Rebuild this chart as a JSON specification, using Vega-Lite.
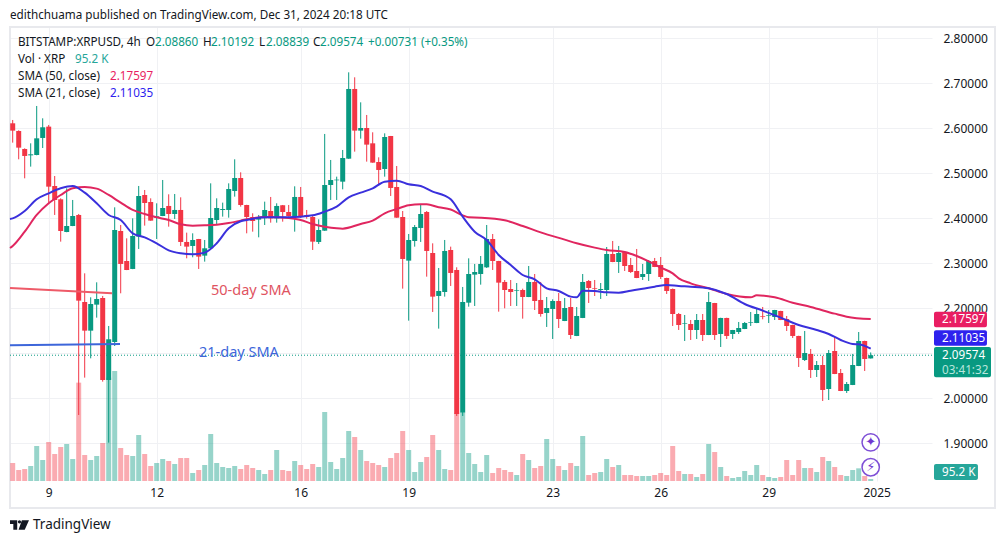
{
"$schema":"https://vega.github.io/schema/vega-lite/v6.json",
"width":922,"height":454,"autosize":"none","padding":{"left":10,"top":27,"right":73,"bottom":62},"background":"#ffffff",
"config":{"view":{"stroke":null},"font":"Noto Sans"},
"datasets":{
"candles":[
{"t":"2024-12-08T00:00Z","o":2.6111,"h":2.6185,"l":2.5681,"c":2.5948,"v":857,"d":"d"},
{"t":"2024-12-08T04:00Z","o":2.5940,"h":2.5955,"l":2.5311,"c":2.5570,"v":524,"d":"d"},
{"t":"2024-12-08T08:00Z","o":2.5540,"h":2.5555,"l":2.4888,"c":2.5385,"v":571,"d":"d"},
{"t":"2024-12-08T12:00Z","o":2.5399,"h":2.5666,"l":2.5148,"c":2.5422,"v":714,"d":"u"},
{"t":"2024-12-08T16:00Z","o":2.5407,"h":2.6496,"l":2.5400,"c":2.5777,"v":1666,"d":"u"},
{"t":"2024-12-08T20:00Z","o":2.5785,"h":2.6222,"l":2.5562,"c":2.6022,"v":1000,"d":"u"},
{"t":"2024-12-09T00:00Z","o":2.6037,"h":2.6074,"l":2.4348,"c":2.4703,"v":1857,"d":"d"},
{"t":"2024-12-09T04:00Z","o":2.4718,"h":2.4940,"l":2.4074,"c":2.4407,"v":1285,"d":"d"},
{"t":"2024-12-09T08:00Z","o":2.4422,"h":2.4444,"l":2.3481,"c":2.3718,"v":1619,"d":"d"},
{"t":"2024-12-09T12:00Z","o":2.3696,"h":2.4666,"l":2.3690,"c":2.3829,"v":1762,"d":"u"},
{"t":"2024-12-09T16:00Z","o":2.3829,"h":2.4407,"l":2.3825,"c":2.4051,"v":1047,"d":"u"},
{"t":"2024-12-09T20:00Z","o":2.4074,"h":2.4096,"l":1.9629,"c":2.2170,"v":4682,"d":"d"},
{"t":"2024-12-10T00:00Z","o":2.2140,"h":2.2777,"l":2.0459,"c":2.1503,"v":1238,"d":"d"},
{"t":"2024-12-10T04:00Z","o":2.1503,"h":2.2244,"l":2.0888,"c":2.2096,"v":1000,"d":"u"},
{"t":"2024-12-10T08:00Z","o":2.2081,"h":2.2577,"l":2.1792,"c":2.2207,"v":1190,"d":"u"},
{"t":"2024-12-10T12:00Z","o":2.2229,"h":2.2274,"l":2.0370,"c":2.0407,"v":1809,"d":"d"},
{"t":"2024-12-10T16:00Z","o":2.0407,"h":2.1607,"l":1.9014,"c":2.1311,"v":4920,"d":"u"},
{"t":"2024-12-10T20:00Z","o":2.1251,"h":2.4244,"l":2.1162,"c":2.3740,"v":5237,"d":"u"},
{"t":"2024-12-11T00:00Z","o":2.3718,"h":2.3851,"l":2.2333,"c":2.2985,"v":1571,"d":"d"},
{"t":"2024-12-11T04:00Z","o":2.3051,"h":2.3555,"l":2.2848,"c":2.2851,"v":1238,"d":"d"},
{"t":"2024-12-11T08:00Z","o":2.2874,"h":2.3999,"l":2.2870,"c":2.3607,"v":1190,"d":"u"},
{"t":"2024-12-11T12:00Z","o":2.3592,"h":2.4718,"l":2.3318,"c":2.4496,"v":2190,"d":"u"},
{"t":"2024-12-11T16:00Z","o":2.4518,"h":2.4629,"l":2.3837,"c":2.4340,"v":1285,"d":"d"},
{"t":"2024-12-11T20:00Z","o":2.4362,"h":2.4444,"l":2.3945,"c":2.3948,"v":714,"d":"d"},
{"t":"2024-12-12T00:00Z","o":2.4014,"h":2.4333,"l":2.3540,"c":2.4044,"v":857,"d":"u"},
{"t":"2024-12-12T04:00Z","o":2.4051,"h":2.4851,"l":2.4048,"c":2.4229,"v":1047,"d":"u"},
{"t":"2024-12-12T08:00Z","o":2.4274,"h":2.4533,"l":2.3814,"c":2.4096,"v":952,"d":"d"},
{"t":"2024-12-12T12:00Z","o":2.4096,"h":2.4540,"l":2.3985,"c":2.4185,"v":809,"d":"u"},
{"t":"2024-12-12T16:00Z","o":2.4185,"h":2.4466,"l":2.3385,"c":2.3474,"v":1095,"d":"d"},
{"t":"2024-12-12T20:00Z","o":2.3474,"h":2.3681,"l":2.3111,"c":2.3370,"v":1095,"d":"d"},
{"t":"2024-12-13T00:00Z","o":2.3385,"h":2.3666,"l":2.3133,"c":2.3518,"v":381,"d":"u"},
{"t":"2024-12-13T04:00Z","o":2.3540,"h":2.3542,"l":2.2874,"c":2.3148,"v":524,"d":"d"},
{"t":"2024-12-13T08:00Z","o":2.3170,"h":2.3518,"l":2.3037,"c":2.3333,"v":762,"d":"u"},
{"t":"2024-12-13T12:00Z","o":2.3333,"h":2.4777,"l":2.3330,"c":2.4007,"v":2238,"d":"u"},
{"t":"2024-12-13T16:00Z","o":2.3962,"h":2.4444,"l":2.3874,"c":2.4229,"v":857,"d":"u"},
{"t":"2024-12-13T20:00Z","o":2.4185,"h":2.4348,"l":2.4037,"c":2.4207,"v":667,"d":"u"},
{"t":"2024-12-14T00:00Z","o":2.4185,"h":2.4777,"l":2.4014,"c":2.4651,"v":619,"d":"u"},
{"t":"2024-12-14T04:00Z","o":2.4607,"h":2.5311,"l":2.4481,"c":2.4896,"v":714,"d":"u"},
{"t":"2024-12-14T08:00Z","o":2.4896,"h":2.5022,"l":2.4259,"c":2.4296,"v":571,"d":"d"},
{"t":"2024-12-14T12:00Z","o":2.4296,"h":2.4300,"l":2.3666,"c":2.4029,"v":762,"d":"d"},
{"t":"2024-12-14T16:00Z","o":2.4029,"h":2.4111,"l":2.3703,"c":2.3940,"v":619,"d":"d"},
{"t":"2024-12-14T20:00Z","o":2.3970,"h":2.4074,"l":2.3577,"c":2.4029,"v":524,"d":"u"},
{"t":"2024-12-15T00:00Z","o":2.3999,"h":2.4370,"l":2.3851,"c":2.4185,"v":333,"d":"u"},
{"t":"2024-12-15T04:00Z","o":2.4162,"h":2.4474,"l":2.3903,"c":2.3999,"v":524,"d":"d"},
{"t":"2024-12-15T08:00Z","o":2.3999,"h":2.4333,"l":2.3903,"c":2.4274,"v":1476,"d":"u"},
{"t":"2024-12-15T12:00Z","o":2.4290,"h":2.4296,"l":2.3925,"c":2.4140,"v":524,"d":"d"},
{"t":"2024-12-15T16:00Z","o":2.4140,"h":2.4296,"l":2.4037,"c":2.4051,"v":476,"d":"d"},
{"t":"2024-12-15T20:00Z","o":2.4029,"h":2.4711,"l":2.3703,"c":2.4474,"v":952,"d":"u"},
{"t":"2024-12-16T00:00Z","o":2.4474,"h":2.4696,"l":2.4007,"c":2.4029,"v":762,"d":"d"},
{"t":"2024-12-16T04:00Z","o":2.4074,"h":2.4185,"l":2.3992,"c":2.4029,"v":571,"d":"d"},
{"t":"2024-12-16T08:00Z","o":2.4029,"h":2.4074,"l":2.3296,"c":2.3481,"v":809,"d":"d"},
{"t":"2024-12-16T12:00Z","o":2.3474,"h":2.3977,"l":2.3429,"c":2.3740,"v":667,"d":"u"},
{"t":"2024-12-16T16:00Z","o":2.3725,"h":2.5874,"l":2.3720,"c":2.4740,"v":3285,"d":"u"},
{"t":"2024-12-16T20:00Z","o":2.4740,"h":2.5296,"l":2.4407,"c":2.4851,"v":905,"d":"u"},
{"t":"2024-12-17T00:00Z","o":2.4844,"h":2.4925,"l":2.4407,"c":2.4859,"v":571,"d":"u"},
{"t":"2024-12-17T04:00Z","o":2.4814,"h":2.5518,"l":2.4644,"c":2.5340,"v":1095,"d":"u"},
{"t":"2024-12-17T08:00Z","o":2.5325,"h":2.7244,"l":2.5320,"c":2.6874,"v":2380,"d":"u"},
{"t":"2024-12-17T12:00Z","o":2.6874,"h":2.7133,"l":2.5481,"c":2.5948,"v":2095,"d":"d"},
{"t":"2024-12-17T16:00Z","o":2.5948,"h":2.6577,"l":2.5770,"c":2.6007,"v":1476,"d":"u"},
{"t":"2024-12-17T20:00Z","o":2.6007,"h":2.6296,"l":2.5259,"c":2.5637,"v":952,"d":"d"},
{"t":"2024-12-18T00:00Z","o":2.5666,"h":2.5911,"l":2.5234,"c":2.5237,"v":857,"d":"d"},
{"t":"2024-12-18T04:00Z","o":2.5251,"h":2.5355,"l":2.4740,"c":2.5074,"v":762,"d":"d"},
{"t":"2024-12-18T08:00Z","o":2.5096,"h":2.5888,"l":2.4925,"c":2.5807,"v":667,"d":"u"},
{"t":"2024-12-18T12:00Z","o":2.5829,"h":2.5830,"l":2.4496,"c":2.4674,"v":1095,"d":"d"},
{"t":"2024-12-18T16:00Z","o":2.4696,"h":2.5162,"l":2.4010,"c":2.4014,"v":1333,"d":"d"},
{"t":"2024-12-18T20:00Z","o":2.4029,"h":2.4162,"l":2.2437,"c":2.3096,"v":2380,"d":"d"},
{"t":"2024-12-19T00:00Z","o":2.3059,"h":2.3651,"l":2.1725,"c":2.3518,"v":1476,"d":"u"},
{"t":"2024-12-19T04:00Z","o":2.3496,"h":2.3851,"l":2.3370,"c":2.3807,"v":428,"d":"u"},
{"t":"2024-12-19T08:00Z","o":2.3785,"h":2.4296,"l":2.3474,"c":2.4096,"v":905,"d":"u"},
{"t":"2024-12-19T12:00Z","o":2.4140,"h":2.4162,"l":2.2703,"c":2.3274,"v":1143,"d":"d"},
{"t":"2024-12-19T16:00Z","o":2.3229,"h":2.3444,"l":2.1918,"c":2.2259,"v":2190,"d":"d"},
{"t":"2024-12-19T20:00Z","o":2.2274,"h":2.2896,"l":2.1548,"c":2.2385,"v":1476,"d":"u"},
{"t":"2024-12-20T00:00Z","o":2.2362,"h":2.3518,"l":2.2259,"c":2.3274,"v":571,"d":"u"},
{"t":"2024-12-20T04:00Z","o":2.3296,"h":2.3370,"l":2.2496,"c":2.2785,"v":524,"d":"d"},
{"t":"2024-12-20T08:00Z","o":2.2851,"h":2.2911,"l":1.9607,"c":1.9651,"v":3253,"d":"d"},
{"t":"2024-12-20T12:00Z","o":1.9681,"h":2.2474,"l":1.9607,"c":2.2140,"v":3253,"d":"u"},
{"t":"2024-12-20T16:00Z","o":2.2125,"h":2.3110,"l":2.2036,"c":2.2762,"v":1333,"d":"u"},
{"t":"2024-12-20T20:00Z","o":2.2748,"h":2.2985,"l":2.2051,"c":2.2807,"v":809,"d":"u"},
{"t":"2024-12-21T00:00Z","o":2.2762,"h":2.3162,"l":2.2525,"c":2.2985,"v":428,"d":"u"},
{"t":"2024-12-21T04:00Z","o":2.2910,"h":2.3851,"l":2.2896,"c":2.3540,"v":1238,"d":"u"},
{"t":"2024-12-21T08:00Z","o":2.3540,"h":2.3651,"l":2.2851,"c":2.3051,"v":381,"d":"d"},
{"t":"2024-12-21T12:00Z","o":2.3051,"h":2.3055,"l":2.1925,"c":2.2570,"v":619,"d":"d"},
{"t":"2024-12-21T16:00Z","o":2.2585,"h":2.2629,"l":2.1999,"c":2.2407,"v":524,"d":"d"},
{"t":"2024-12-21T20:00Z","o":2.2429,"h":2.2629,"l":2.2051,"c":2.2362,"v":428,"d":"d"},
{"t":"2024-12-22T00:00Z","o":2.2392,"h":2.2562,"l":2.2051,"c":2.2407,"v":286,"d":"u"},
{"t":"2024-12-22T04:00Z","o":2.2407,"h":2.2436,"l":2.1770,"c":2.2251,"v":1285,"d":"d"},
{"t":"2024-12-22T08:00Z","o":2.2251,"h":2.2940,"l":2.2248,"c":2.2585,"v":1000,"d":"u"},
{"t":"2024-12-22T12:00Z","o":2.2585,"h":2.2762,"l":2.1962,"c":2.2162,"v":619,"d":"d"},
{"t":"2024-12-22T16:00Z","o":2.2185,"h":2.2585,"l":2.1814,"c":2.1873,"v":714,"d":"d"},
{"t":"2024-12-22T20:00Z","o":2.1896,"h":2.2251,"l":2.1585,"c":2.2007,"v":2000,"d":"u"},
{"t":"2024-12-23T00:00Z","o":2.1985,"h":2.2199,"l":2.1318,"c":2.2162,"v":1047,"d":"u"},
{"t":"2024-12-23T04:00Z","o":2.2162,"h":2.2340,"l":2.1562,"c":2.1762,"v":714,"d":"d"},
{"t":"2024-12-23T08:00Z","o":2.1718,"h":2.2229,"l":2.1715,"c":2.2007,"v":524,"d":"u"},
{"t":"2024-12-23T12:00Z","o":2.2029,"h":2.2229,"l":2.1318,"c":2.1407,"v":857,"d":"d"},
{"t":"2024-12-23T16:00Z","o":2.1385,"h":2.2029,"l":2.1382,"c":2.1829,"v":714,"d":"u"},
{"t":"2024-12-23T20:00Z","o":2.1785,"h":2.2762,"l":2.1782,"c":2.2585,"v":2142,"d":"u"},
{"t":"2024-12-24T00:00Z","o":2.2607,"h":2.2629,"l":2.2118,"c":2.2451,"v":286,"d":"d"},
{"t":"2024-12-24T04:00Z","o":2.2451,"h":2.2629,"l":2.2273,"c":2.2436,"v":381,"d":"d"},
{"t":"2024-12-24T08:00Z","o":2.2407,"h":2.2562,"l":2.2207,"c":2.2429,"v":428,"d":"u"},
{"t":"2024-12-24T12:00Z","o":2.2407,"h":2.3362,"l":2.2273,"c":2.3207,"v":1047,"d":"u"},
{"t":"2024-12-24T16:00Z","o":2.3207,"h":2.3496,"l":2.3025,"c":2.3029,"v":667,"d":"d"},
{"t":"2024-12-24T20:00Z","o":2.3029,"h":2.3385,"l":2.2785,"c":2.3229,"v":762,"d":"u"},
{"t":"2024-12-25T00:00Z","o":2.3251,"h":2.3255,"l":2.2829,"c":2.2940,"v":286,"d":"d"},
{"t":"2024-12-25T04:00Z","o":2.2962,"h":2.3118,"l":2.2785,"c":2.2807,"v":286,"d":"d"},
{"t":"2024-12-25T08:00Z","o":2.2829,"h":2.3318,"l":2.2670,"c":2.2673,"v":238,"d":"d"},
{"t":"2024-12-25T12:00Z","o":2.2696,"h":2.2985,"l":2.2629,"c":2.2762,"v":238,"d":"u"},
{"t":"2024-12-25T16:00Z","o":2.2762,"h":2.3073,"l":2.2607,"c":2.3051,"v":238,"d":"u"},
{"t":"2024-12-25T20:00Z","o":2.3051,"h":2.3118,"l":2.2915,"c":2.2918,"v":286,"d":"d"},
{"t":"2024-12-26T00:00Z","o":2.2962,"h":2.3140,"l":2.2651,"c":2.2696,"v":381,"d":"d"},
{"t":"2024-12-26T04:00Z","o":2.2673,"h":2.2680,"l":2.2318,"c":2.2385,"v":286,"d":"d"},
{"t":"2024-12-26T08:00Z","o":2.2429,"h":2.2440,"l":2.1607,"c":2.1873,"v":1666,"d":"d"},
{"t":"2024-12-26T12:00Z","o":2.1873,"h":2.1896,"l":2.1518,"c":2.1629,"v":476,"d":"d"},
{"t":"2024-12-26T16:00Z","o":2.1659,"h":2.1851,"l":2.1273,"c":2.1673,"v":333,"d":"u"},
{"t":"2024-12-26T20:00Z","o":2.1651,"h":2.1740,"l":2.1296,"c":2.1518,"v":333,"d":"d"},
{"t":"2024-12-27T00:00Z","o":2.1518,"h":2.1873,"l":2.1318,"c":2.1740,"v":190,"d":"u"},
{"t":"2024-12-27T04:00Z","o":2.1740,"h":2.1873,"l":2.1273,"c":2.1407,"v":333,"d":"d"},
{"t":"2024-12-27T08:00Z","o":2.1407,"h":2.2362,"l":2.1404,"c":2.2140,"v":1762,"d":"u"},
{"t":"2024-12-27T12:00Z","o":2.2118,"h":2.2120,"l":2.1296,"c":2.1407,"v":1381,"d":"d"},
{"t":"2024-12-27T16:00Z","o":2.1429,"h":2.1790,"l":2.1140,"c":2.1785,"v":667,"d":"u"},
{"t":"2024-12-27T20:00Z","o":2.1785,"h":2.1790,"l":2.1318,"c":2.1385,"v":238,"d":"d"},
{"t":"2024-12-28T00:00Z","o":2.1429,"h":2.1520,"l":2.1318,"c":2.1518,"v":143,"d":"u"},
{"t":"2024-12-28T04:00Z","o":2.1473,"h":2.1696,"l":2.1429,"c":2.1562,"v":190,"d":"u"},
{"t":"2024-12-28T08:00Z","o":2.1540,"h":2.1696,"l":2.1537,"c":2.1673,"v":476,"d":"u"},
{"t":"2024-12-28T12:00Z","o":2.1681,"h":2.1918,"l":2.1607,"c":2.1696,"v":286,"d":"u"},
{"t":"2024-12-28T16:00Z","o":2.1673,"h":2.1985,"l":2.1670,"c":2.1873,"v":762,"d":"u"},
{"t":"2024-12-28T20:00Z","o":2.1822,"h":2.2029,"l":2.1755,"c":2.1807,"v":286,"d":"d"},
{"t":"2024-12-29T00:00Z","o":2.1836,"h":2.1962,"l":2.1673,"c":2.1851,"v":190,"d":"u"},
{"t":"2024-12-29T04:00Z","o":2.1807,"h":2.1965,"l":2.1740,"c":2.1962,"v":143,"d":"u"},
{"t":"2024-12-29T08:00Z","o":2.1940,"h":2.1945,"l":2.1737,"c":2.1740,"v":190,"d":"d"},
{"t":"2024-12-29T12:00Z","o":2.1762,"h":2.1829,"l":2.1496,"c":2.1607,"v":1000,"d":"d"},
{"t":"2024-12-29T16:00Z","o":2.1629,"h":2.1635,"l":2.1340,"c":2.1385,"v":286,"d":"d"},
{"t":"2024-12-29T20:00Z","o":2.1385,"h":2.1390,"l":2.0696,"c":2.0896,"v":1000,"d":"d"},
{"t":"2024-12-30T00:00Z","o":2.0851,"h":2.1496,"l":2.0829,"c":2.1007,"v":619,"d":"u"},
{"t":"2024-12-30T04:00Z","o":2.0985,"h":2.1096,"l":2.0451,"c":2.0629,"v":619,"d":"d"},
{"t":"2024-12-30T08:00Z","o":2.0629,"h":2.0829,"l":2.0473,"c":2.0740,"v":428,"d":"u"},
{"t":"2024-12-30T12:00Z","o":2.0740,"h":2.0940,"l":1.9940,"c":2.0185,"v":1143,"d":"d"},
{"t":"2024-12-30T16:00Z","o":2.0207,"h":2.1073,"l":1.9962,"c":2.1007,"v":952,"d":"u"},
{"t":"2024-12-30T20:00Z","o":2.1051,"h":2.1362,"l":2.0537,"c":2.0540,"v":667,"d":"d"},
{"t":"2024-12-31T00:00Z","o":2.0562,"h":2.0651,"l":2.0160,"c":2.0162,"v":286,"d":"d"},
{"t":"2024-12-31T04:00Z","o":2.0162,"h":2.0362,"l":2.0118,"c":2.0318,"v":238,"d":"u"},
{"t":"2024-12-31T08:00Z","o":2.0296,"h":2.0985,"l":2.0293,"c":2.0740,"v":524,"d":"u"},
{"t":"2024-12-31T12:00Z","o":2.0718,"h":2.1473,"l":2.0715,"c":2.1273,"v":603,"d":"u"},
{"t":"2024-12-31T16:00Z","o":2.1273,"h":2.1280,"l":2.0607,"c":2.0873,"v":238,"d":"d"},
{"t":"2024-12-31T20:00Z","o":2.0886,"h":2.1019,"l":2.0884,"c":2.0957,"v":95.2,"d":"u"}
],
"sma21":[
{"t":"2024-12-07T22:12Z","s":2.3985},{"t":"2024-12-08T00:00Z","s":2.3999},{"t":"2024-12-08T08:00Z","s":2.4162},{"t":"2024-12-08T16:00Z","s":2.4422},{"t":"2024-12-09T00:00Z","s":2.4555},{"t":"2024-12-09T08:00Z","s":2.4666},{"t":"2024-12-09T16:00Z","s":2.4718},{"t":"2024-12-10T00:00Z","s":2.4570},{"t":"2024-12-10T08:00Z","s":2.4333},{"t":"2024-12-10T16:00Z","s":2.4074},{"t":"2024-12-11T00:00Z","s":2.3962},{"t":"2024-12-11T08:00Z","s":2.3666},{"t":"2024-12-11T16:00Z","s":2.3577},{"t":"2024-12-12T00:00Z","s":2.3444},{"t":"2024-12-12T08:00Z","s":2.3288},{"t":"2024-12-12T16:00Z","s":2.3222},{"t":"2024-12-13T00:00Z","s":2.3199},{"t":"2024-12-13T08:00Z","s":2.3237},{"t":"2024-12-13T16:00Z","s":2.3444},{"t":"2024-12-14T00:00Z","s":2.3777},{"t":"2024-12-14T08:00Z","s":2.3933},{"t":"2024-12-14T12:00Z","s":2.3962},{"t":"2024-12-15T00:00Z","s":2.4022},{"t":"2024-12-15T16:00Z","s":2.4022},{"t":"2024-12-16T08:00Z","s":2.4066},{"t":"2024-12-16T16:00Z","s":2.4148},{"t":"2024-12-17T00:00Z","s":2.4259},{"t":"2024-12-17T08:00Z","s":2.4466},{"t":"2024-12-17T16:00Z","s":2.4570},{"t":"2024-12-18T00:00Z","s":2.4666},{"t":"2024-12-18T08:00Z","s":2.4814},{"t":"2024-12-18T16:00Z","s":2.4837},{"t":"2024-12-19T00:00Z","s":2.4755},{"t":"2024-12-19T08:00Z","s":2.4718},{"t":"2024-12-19T16:00Z","s":2.4592},{"t":"2024-12-20T00:00Z","s":2.4503},{"t":"2024-12-20T04:00Z","s":2.4422},{"t":"2024-12-20T12:00Z","s":2.4036},{"t":"2024-12-20T20:00Z","s":2.3703},{"t":"2024-12-21T04:00Z","s":2.3518},{"t":"2024-12-21T12:00Z","s":2.3185},{"t":"2024-12-21T20:00Z","s":2.2962},{"t":"2024-12-22T04:00Z","s":2.2740},{"t":"2024-12-22T12:00Z","s":2.2644},{"t":"2024-12-22T20:00Z","s":2.2444},{"t":"2024-12-23T04:00Z","s":2.2385},{"t":"2024-12-23T12:00Z","s":2.2259},{"t":"2024-12-23T16:00Z","s":2.2244},{"t":"2024-12-23T20:00Z","s":2.2392},{"t":"2024-12-24T04:00Z","s":2.2385},{"t":"2024-12-24T12:00Z","s":2.2355},{"t":"2024-12-24T20:00Z","s":2.2348},{"t":"2024-12-25T04:00Z","s":2.2392},{"t":"2024-12-25T12:00Z","s":2.2436},{"t":"2024-12-25T20:00Z","s":2.2481},{"t":"2024-12-26T04:00Z","s":2.2518},{"t":"2024-12-26T12:00Z","s":2.2496},{"t":"2024-12-26T20:00Z","s":2.2481},{"t":"2024-12-27T08:00Z","s":2.2444},{"t":"2024-12-27T20:00Z","s":2.2318},{"t":"2024-12-28T08:00Z","s":2.2096},{"t":"2024-12-28T20:00Z","s":2.1948},{"t":"2024-12-29T08:00Z","s":2.1792},{"t":"2024-12-29T20:00Z","s":2.1629},{"t":"2024-12-30T08:00Z","s":2.1518},{"t":"2024-12-30T16:00Z","s":2.1429},{"t":"2024-12-31T00:00Z","s":2.1296},{"t":"2024-12-31T08:00Z","s":2.1207},{"t":"2024-12-31T12:00Z","s":2.1199},{"t":"2024-12-31T20:00Z","s":2.11035}
],
"sma50":[
{"t":"2024-12-07T22:12Z","s":2.3340},{"t":"2024-12-08T00:00Z","s":2.3385},{"t":"2024-12-08T08:00Z","s":2.3703},{"t":"2024-12-08T16:00Z","s":2.4074},{"t":"2024-12-09T00:00Z","s":2.4333},{"t":"2024-12-09T08:00Z","s":2.4518},{"t":"2024-12-09T16:00Z","s":2.4666},{"t":"2024-12-10T00:00Z","s":2.4696},{"t":"2024-12-10T08:00Z","s":2.4659},{"t":"2024-12-10T16:00Z","s":2.4518},{"t":"2024-12-11T00:00Z","s":2.4348},{"t":"2024-12-11T08:00Z","s":2.4185},{"t":"2024-12-11T16:00Z","s":2.4096},{"t":"2024-12-12T00:00Z","s":2.4022},{"t":"2024-12-12T08:00Z","s":2.3962},{"t":"2024-12-12T16:00Z","s":2.3866},{"t":"2024-12-13T00:00Z","s":2.3837},{"t":"2024-12-13T08:00Z","s":2.3844},{"t":"2024-12-13T16:00Z","s":2.3859},{"t":"2024-12-14T00:00Z","s":2.3896},{"t":"2024-12-14T08:00Z","s":2.3948},{"t":"2024-12-14T12:00Z","s":2.3977},{"t":"2024-12-15T00:00Z","s":2.4029},{"t":"2024-12-15T16:00Z","s":2.4007},{"t":"2024-12-16T00:00Z","s":2.3962},{"t":"2024-12-16T08:00Z","s":2.3874},{"t":"2024-12-16T16:00Z","s":2.3814},{"t":"2024-12-17T00:00Z","s":2.3777},{"t":"2024-12-17T04:00Z","s":2.3770},{"t":"2024-12-17T16:00Z","s":2.3874},{"t":"2024-12-18T00:00Z","s":2.3948},{"t":"2024-12-18T08:00Z","s":2.4111},{"t":"2024-12-18T16:00Z","s":2.4207},{"t":"2024-12-19T00:00Z","s":2.4288},{"t":"2024-12-19T08:00Z","s":2.4311},{"t":"2024-12-19T12:00Z","s":2.4311},{"t":"2024-12-19T20:00Z","s":2.4244},{"t":"2024-12-20T04:00Z","s":2.4195},{"t":"2024-12-20T12:00Z","s":2.4066},{"t":"2024-12-20T16:00Z","s":2.4022},{"t":"2024-12-21T00:00Z","s":2.4014},{"t":"2024-12-21T16:00Z","s":2.3955},{"t":"2024-12-22T04:00Z","s":2.3829},{"t":"2024-12-22T16:00Z","s":2.3688},{"t":"2024-12-23T08:00Z","s":2.3525},{"t":"2024-12-23T16:00Z","s":2.3444},{"t":"2024-12-24T04:00Z","s":2.3348},{"t":"2024-12-24T12:00Z","s":2.3296},{"t":"2024-12-25T00:00Z","s":2.3251},{"t":"2024-12-25T08:00Z","s":2.3162},{"t":"2024-12-25T16:00Z","s":2.3044},{"t":"2024-12-26T00:00Z","s":2.2903},{"t":"2024-12-26T08:00Z","s":2.2777},{"t":"2024-12-26T12:00Z","s":2.2666},{"t":"2024-12-26T20:00Z","s":2.2555},{"t":"2024-12-27T08:00Z","s":2.2444},{"t":"2024-12-27T20:00Z","s":2.2318},{"t":"2024-12-28T12:00Z","s":2.2244},{"t":"2024-12-28T16:00Z","s":2.2288},{"t":"2024-12-29T04:00Z","s":2.2244},{"t":"2024-12-29T16:00Z","s":2.2125},{"t":"2024-12-30T04:00Z","s":2.2029},{"t":"2024-12-30T20:00Z","s":2.1881},{"t":"2024-12-31T04:00Z","s":2.1814},{"t":"2024-12-31T20:00Z","s":2.17597}
],
"lastPrice":[{"t":"2024-12-07T22:12Z","p":2.09574},{"t":"2025-01-02T12:52Z","p":2.09574}],
"note50":[{"t":"2024-12-07T22:12Z","p":2.2451},{"t":"2024-12-10T18:12Z","p":2.2333}],
"note21":[{"t":"2024-12-07T22:12Z","p":2.1177},{"t":"2024-12-10T23:32Z","p":2.1207}],
"notes":[
{"t":"2024-12-13T12:12Z","p":2.2384,"label":"50-day SMA","kind":"note50"},
{"t":"2024-12-13T04:12Z","p":2.1007,"label":"21-day SMA","kind":"note21"}
],
"frame":[{"t":"2024-12-07T22:12Z","t2":"2025-01-04T06:52Z","p":2.8251,"p2":1.7562}],
"tags":[
{"t":"2025-01-02T14:12Z","t2":"2025-01-04T01:30Z","p":2.1924,"p2":2.1578,"kind":"s50"},
{"t":"2025-01-02T14:12Z","t2":"2025-01-04T01:30Z","p":2.1511,"p2":2.1169,"kind":"s21"},
{"t":"2025-01-02T14:12Z","t2":"2025-01-04T04:12Z","p":2.1140,"p2":2.0467,"kind":"up"},
{"t":"2025-01-02T14:12Z","t2":"2025-01-03T19:30Z","p":1.8540,"p2":1.8184,"kind":"vol"}
],
"texts":[
{"t":"2024-12-07T22:12Z","p":2.8518,"label":"edithchuama published on TradingView.com, Dec 31, 2024 20:18 UTC","kind":"ink"},
{"t":"2024-12-08T03:32Z","p":2.7911,"label":"BITSTAMP:XRPUSD, 4h","kind":"ink"},
{"t":"2024-12-11T16:52Z","p":2.7911,"label":"O","kind":"ink"},
{"t":"2024-12-11T22:52Z","p":2.7911,"label":"2.08860","kind":"up"},
{"t":"2024-12-13T06:52Z","p":2.7911,"label":"H","kind":"ink"},
{"t":"2024-12-13T12:12Z","p":2.7911,"label":"2.10192","kind":"up"},
{"t":"2024-12-14T20:12Z","p":2.7911,"label":"L","kind":"ink"},
{"t":"2024-12-15T00:52Z","p":2.7911,"label":"2.08839","kind":"up"},
{"t":"2024-12-16T08:12Z","p":2.7911,"label":"C","kind":"ink"},
{"t":"2024-12-16T12:52Z","p":2.7911,"label":"2.09574","kind":"up"},
{"t":"2024-12-17T20:52Z","p":2.7911,"label":"+0.00731 (+0.35%)","kind":"up"},
{"t":"2024-12-08T03:32Z","p":2.7540,"label":"Vol · XRP","kind":"ink"},
{"t":"2024-12-09T17:32Z","p":2.7540,"label":"95.2 K","kind":"vol"},
{"t":"2024-12-08T03:32Z","p":2.7162,"label":"SMA (50, close)","kind":"ink"},
{"t":"2024-12-10T16:52Z","p":2.7162,"label":"2.17597","kind":"s50"},
{"t":"2024-12-08T03:32Z","p":2.6784,"label":"SMA (21, close)","kind":"ink"},
{"t":"2024-12-10T16:52Z","p":2.6784,"label":"2.11035","kind":"s21"},
{"t":"2025-01-02T19:32Z","p":2.1751,"label":"2.17597","kind":"white"},
{"t":"2025-01-02T19:32Z","p":2.1340,"label":"2.11035","kind":"white"},
{"t":"2025-01-02T19:32Z","p":2.0957,"label":"2.09574","kind":"white"},
{"t":"2025-01-02T19:32Z","p":2.0629,"label":"03:41:32","kind":"pale"},
{"t":"2025-01-02T19:32Z","p":1.8362,"label":"95.2 K","kind":"white"}
],
"logo":[{"t":"2024-12-08T04:32Z","p":1.7184}],
"brand":[{"t":"2024-12-08T13:32Z","p":1.7184,"label":"TradingView"}],
"icons":[
{"t":"2024-12-31T20:00Z","p":1.9022,"label":"✦","kind":"a"},
{"t":"2024-12-31T20:00Z","p":1.8467,"label":"⚡","kind":"b"}
]
},
"encoding":{"x":{"field":"t","type":"temporal","title":null,
  "scale":{"type":"utc","padding":0,"domain":["2024-12-07T22:12Z","2025-01-02T12:52Z"]},
  "axis":{"values":["2024-12-09T00:00Z","2024-12-12T00:00Z","2024-12-16T00:00Z","2024-12-19T00:00Z","2024-12-23T00:00Z","2024-12-26T00:00Z","2024-12-29T00:00Z","2025-01-01T00:00Z"],
    "labelExpr":"utcyear(datum.value)==2025 ? '2025' : utcFormat(datum.value,'%-d')",
    "grid":true,"gridColor":"#f0f1f4","gridWidth":1,"domain":false,"ticks":false,"labelPadding":6,"labelFontSize":12,"labelColor":"#131722","labelFlush":false,"labelOverlap":false,"zindex":0}}},
"layer":[
  {"data":{"name":"frame"},"mark":{"type":"rect","fill":"transparent","stroke":"#e8e9ed","strokeWidth":2},
   "encoding":{"x2":{"field":"t2"},"y":{"field":"p","type":"quantitative","title":null,"scale":{"domain":[1.8162,2.8251],"nice":false,"zero":false},
     "axis":{"orient":"right","values":[1.9,2.0,2.1,2.2,2.3,2.4,2.5,2.6,2.7,2.8],"format":".5f","grid":true,"gridColor":"#f0f1f4","gridWidth":1,"domain":false,"ticks":false,"labelPadding":11,"labelFontSize":12,"labelColor":"#131722","labelFlush":false,"labelOverlap":false,"labelBound":false,"zindex":0}},
    "y2":{"field":"p2"}}},
 {"data":{"name":"candles"},"mark":{"type":"bar","size":5,"opacity":0.42},
  "encoding":{"y":{"field":"v","type":"quantitative","axis":null,"scale":{"domain":[0,21610],"nice":false,"zero":true}},
   "color":{"field":"d","type":"nominal","legend":null,"scale":{"domain":["u","d"],"range":["#089981","#F23645"]}}}},
  {"data":{"name":"lastPrice"},"mark":{"type":"line","color":"#089981","strokeWidth":1,"strokeDash":[1,2]},
   "encoding":{"y":{"field":"p","type":"quantitative","axis":null,"scale":{"domain":[1.8162,2.8251],"nice":false,"zero":false}}}},
  {"data":{"name":"candles"},"mark":{"type":"rule","strokeWidth":1},
   "encoding":{"y":{"field":"l","type":"quantitative","axis":null,"scale":{"domain":[1.8162,2.8251],"nice":false,"zero":false}},"y2":{"field":"h"},
    "color":{"field":"d","type":"nominal","legend":null,"scale":{"domain":["u","d"],"range":["#089981","#F23645"]}}}},
  {"data":{"name":"candles"},"mark":{"type":"bar","size":5},
   "encoding":{"y":{"field":"o","type":"quantitative","axis":null,"scale":{"domain":[1.8162,2.8251],"nice":false,"zero":false}},"y2":{"field":"c"},
    "color":{"field":"d","type":"nominal","legend":null,"scale":{"domain":["u","d"],"range":["#089981","#F23645"]}}}},
  {"data":{"name":"sma50"},"mark":{"type":"line","color":"#E0265F","strokeWidth":2,"interpolate":"monotone"},
   "encoding":{"y":{"field":"s","type":"quantitative","axis":null,"scale":{"domain":[1.8162,2.8251],"nice":false,"zero":false}}}},
  {"data":{"name":"sma21"},"mark":{"type":"line","color":"#3A30DC","strokeWidth":2,"interpolate":"monotone"},
   "encoding":{"y":{"field":"s","type":"quantitative","axis":null,"scale":{"domain":[1.8162,2.8251],"nice":false,"zero":false}}}},
  {"data":{"name":"note50"},"mark":{"type":"line","color":"#EE5A68","strokeWidth":2},
   "encoding":{"y":{"field":"p","type":"quantitative","axis":null,"scale":{"domain":[1.8162,2.8251],"nice":false,"zero":false}}}},
  {"data":{"name":"note21"},"mark":{"type":"line","color":"#3D66DA","strokeWidth":2},
   "encoding":{"y":{"field":"p","type":"quantitative","axis":null,"scale":{"domain":[1.8162,2.8251],"nice":false,"zero":false}}}},
  {"data":{"name":"tags"},"mark":{"type":"rect","cornerRadius":2},
   "encoding":{"x2":{"field":"t2"},"y":{"field":"p","type":"quantitative","axis":null,"scale":{"domain":[1.8162,2.8251],"nice":false,"zero":false}},"y2":{"field":"p2"},
    "fill":{"field":"kind","type":"nominal","legend":null,"scale":{"domain":["ink","up","vol","s50","s21","white","pale","note50","note21"],"range":["#131722","#089981","#26A69A","#E91E63","#2E22EE","#FFFFFF","#B8E6DD","#E0535F","#3D66DA"]}}}},
  {"data":{"name":"texts"},"mark":{"type":"text","align":"left","baseline":"middle","fontSize":11.7},
   "encoding":{"y":{"field":"p","type":"quantitative","axis":null,"scale":{"domain":[1.8162,2.8251],"nice":false,"zero":false}},"text":{"field":"label"},
    "fill":{"field":"kind","type":"nominal","legend":null,"scale":{"domain":["ink","up","vol","s50","s21","white","pale","note50","note21"],"range":["#131722","#089981","#26A69A","#E91E63","#2E22EE","#FFFFFF","#B8E6DD","#E0535F","#3D66DA"]}}}},
  {"data":{"name":"notes"},"mark":{"type":"text","align":"left","baseline":"middle","fontSize":14.5},
   "encoding":{"y":{"field":"p","type":"quantitative","axis":null,"scale":{"domain":[1.8162,2.8251],"nice":false,"zero":false}},"text":{"field":"label"},
    "fill":{"field":"kind","type":"nominal","legend":null,"scale":{"domain":["ink","up","vol","s50","s21","white","pale","note50","note21"],"range":["#131722","#089981","#26A69A","#E91E63","#2E22EE","#FFFFFF","#B8E6DD","#E0535F","#3D66DA"]}}}},
  {"data":{"name":"logo"},"mark":{"type":"point","filled":true,"opacity":1,"size":361,"color":"#131722","strokeWidth":0,
    "shape":"M-1,-0.5 H-0.24 V0.5 H-0.65 V-0.1 H-1 Z M-0.17,-0.33 A0.17,0.17 0 1 1 0.17,-0.33 A0.17,0.17 0 1 1 -0.17,-0.33 Z M0.25,-0.5 H1 L0.55,0.5 H-0.1 Z"},
   "encoding":{"y":{"field":"p","type":"quantitative","axis":null,"scale":{"domain":[1.8162,2.8251],"nice":false,"zero":false}}}},
  {"data":{"name":"brand"},"mark":{"type":"text","align":"left","baseline":"middle","fontSize":13.5,"color":"#131722"},
   "encoding":{"y":{"field":"p","type":"quantitative","axis":null,"scale":{"domain":[1.8162,2.8251],"nice":false,"zero":false}},"text":{"field":"label"}}},
  {"data":{"name":"icons"},"mark":{"type":"point","shape":"circle","size":300,"filled":true,"fill":"#ffffff","stroke":"#7E4FD6","strokeWidth":1.5,"opacity":1},
   "encoding":{"y":{"field":"p","type":"quantitative","axis":null,"scale":{"domain":[1.8162,2.8251],"nice":false,"zero":false}}}},
  {"data":{"name":"icons"},"mark":{"type":"text","align":"center","baseline":"middle","fontSize":13,"font":"DejaVu Sans","color":"#7038D0"},
   "encoding":{"y":{"field":"p","type":"quantitative","axis":null,"scale":{"domain":[1.8162,2.8251],"nice":false,"zero":false}},"text":{"field":"label"}}}
],
"resolve":{"scale":{"y":"independent"}}
}
